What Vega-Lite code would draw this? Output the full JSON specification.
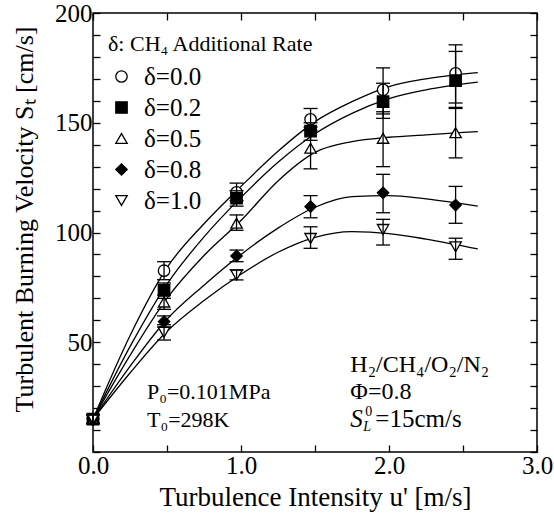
{
  "$schema": "https://vega.github.io/schema/vega-lite/v6.json",
  "width": 444,
  "height": 439,
  "autosize": {"type": "none"},
  "padding": {"left": 93, "top": 13, "right": 17, "bottom": 70},
  "background": "white",
  "config": {
    "view": {"stroke": "black", "strokeWidth": 1.5},
    "font": "Liberation Serif",
    "axis": {
      "domain": false, "grid": false, "tickColor": "black", "tickWidth": 1.3, "tickSize": -7,
      "labelFont": "Liberation Serif", "labelFontSize": 25, "labelColor": "black",
      "titleFont": "Liberation Serif", "titleFontSize": 26, "titleFontWeight": "normal", "titleColor": "black",
      "labelFlush": false, "labelOverlap": false, "titleLimit": 600
    },
    "legend": {
      "orient": "none", "legendX": 15, "legendY": 21,
      "titleFont": "Liberation Serif", "titleFontSize": 22, "titleFontWeight": "normal", "titleColor": "black", "titleLimit": 400,
      "labelFont": "Liberation Serif", "labelFontSize": 25, "labelColor": "black",
      "symbolSize": 130, "symbolStrokeColor": "black", "symbolStrokeWidth": 1.3,
      "rowPadding": 5, "labelOffset": 10, "padding": 0, "titlePadding": 8, "symbolOffset": 1
    }
  },
  "datasets": {
    "curves": [
      {"d": "δ=0.0", "u": 0, "v": 15}, {"d": "δ=0.0", "u": 0.25, "v": 53}, {"d": "δ=0.0", "u": 0.5, "v": 84}, {"d": "δ=0.0", "u": 0.75, "v": 104}, {"d": "δ=0.0", "u": 1.0, "v": 121}, {"d": "δ=0.0", "u": 1.25, "v": 137}, {"d": "δ=0.0", "u": 1.5, "v": 150.5}, {"d": "δ=0.0", "u": 1.75, "v": 159.6}, {"d": "δ=0.0", "u": 2.0, "v": 166.5}, {"d": "δ=0.0", "u": 2.25, "v": 170}, {"d": "δ=0.0", "u": 2.6, "v": 172.8},
      {"d": "δ=0.2", "u": 0, "v": 15}, {"d": "δ=0.2", "u": 0.25, "v": 48}, {"d": "δ=0.2", "u": 0.5, "v": 76.5}, {"d": "δ=0.2", "u": 0.75, "v": 98}, {"d": "δ=0.2", "u": 1.0, "v": 116}, {"d": "δ=0.2", "u": 1.25, "v": 132}, {"d": "δ=0.2", "u": 1.5, "v": 145}, {"d": "δ=0.2", "u": 1.75, "v": 154.3}, {"d": "δ=0.2", "u": 2.0, "v": 161}, {"d": "δ=0.2", "u": 2.25, "v": 165}, {"d": "δ=0.2", "u": 2.6, "v": 168.5},
      {"d": "δ=0.5", "u": 0, "v": 15}, {"d": "δ=0.5", "u": 0.25, "v": 44}, {"d": "δ=0.5", "u": 0.5, "v": 70}, {"d": "δ=0.5", "u": 0.75, "v": 89.5}, {"d": "δ=0.5", "u": 1.0, "v": 105.5}, {"d": "δ=0.5", "u": 1.25, "v": 123.5}, {"d": "δ=0.5", "u": 1.5, "v": 136.5}, {"d": "δ=0.5", "u": 1.75, "v": 141.4}, {"d": "δ=0.5", "u": 2.0, "v": 143.4}, {"d": "δ=0.5", "u": 2.25, "v": 144.5}, {"d": "δ=0.5", "u": 2.6, "v": 146},
      {"d": "δ=0.8", "u": 0, "v": 15}, {"d": "δ=0.8", "u": 0.25, "v": 39}, {"d": "δ=0.8", "u": 0.5, "v": 60.5}, {"d": "δ=0.8", "u": 0.75, "v": 76}, {"d": "δ=0.8", "u": 1.0, "v": 90}, {"d": "δ=0.8", "u": 1.25, "v": 102}, {"d": "δ=0.8", "u": 1.5, "v": 111.5}, {"d": "δ=0.8", "u": 1.75, "v": 116.3}, {"d": "δ=0.8", "u": 2.0, "v": 116.8}, {"d": "δ=0.8", "u": 2.25, "v": 115.3}, {"d": "δ=0.8", "u": 2.6, "v": 112},
      {"d": "δ=1.0", "u": 0, "v": 15}, {"d": "δ=1.0", "u": 0.25, "v": 36}, {"d": "δ=1.0", "u": 0.5, "v": 55}, {"d": "δ=1.0", "u": 0.75, "v": 69}, {"d": "δ=1.0", "u": 1.0, "v": 81}, {"d": "δ=1.0", "u": 1.25, "v": 91}, {"d": "δ=1.0", "u": 1.5, "v": 97.8}, {"d": "δ=1.0", "u": 1.75, "v": 100.4}, {"d": "δ=1.0", "u": 2.0, "v": 99.5}, {"d": "δ=1.0", "u": 2.25, "v": 97}, {"d": "δ=1.0", "u": 2.6, "v": 92.5}
    ],
    "pts": [
      {"d": "δ=0.0", "u": 0, "v": 15, "lo": 13, "hi": 17}, {"d": "δ=0.0", "u": 0.48, "v": 82.6, "lo": 78.5, "hi": 86.7}, {"d": "δ=0.0", "u": 0.97, "v": 118.3, "lo": 114.5, "hi": 122.5}, {"d": "δ=0.0", "u": 1.47, "v": 151.6, "lo": 146.5, "hi": 156.5}, {"d": "δ=0.0", "u": 1.96, "v": 165, "lo": 154, "hi": 175}, {"d": "δ=0.0", "u": 2.45, "v": 172.5, "lo": 159, "hi": 185.5},
      {"d": "δ=0.2", "u": 0, "v": 15, "lo": 13, "hi": 17}, {"d": "δ=0.2", "u": 0.48, "v": 73.6, "lo": 70, "hi": 77}, {"d": "δ=0.2", "u": 0.97, "v": 115.6, "lo": 112, "hi": 119}, {"d": "δ=0.2", "u": 1.47, "v": 146.2, "lo": 142, "hi": 150}, {"d": "δ=0.2", "u": 1.96, "v": 159.6, "lo": 152, "hi": 168}, {"d": "δ=0.2", "u": 2.45, "v": 169.2, "lo": 156.5, "hi": 182.5},
      {"d": "δ=0.5", "u": 0, "v": 15, "lo": 13, "hi": 17}, {"d": "δ=0.5", "u": 0.48, "v": 68.3, "lo": 65, "hi": 71.5}, {"d": "δ=0.5", "u": 0.97, "v": 104.2, "lo": 101, "hi": 108}, {"d": "δ=0.5", "u": 1.47, "v": 138.4, "lo": 129, "hi": 148}, {"d": "δ=0.5", "u": 1.96, "v": 142.9, "lo": 130, "hi": 155}, {"d": "δ=0.5", "u": 2.45, "v": 145.5, "lo": 134, "hi": 157},
      {"d": "δ=0.8", "u": 0, "v": 15, "lo": 13, "hi": 17}, {"d": "δ=0.8", "u": 0.48, "v": 59.4, "lo": 57, "hi": 62}, {"d": "δ=0.8", "u": 0.97, "v": 89.3, "lo": 86.7, "hi": 92}, {"d": "δ=0.8", "u": 1.47, "v": 111.8, "lo": 106.7, "hi": 116.8}, {"d": "δ=0.8", "u": 1.96, "v": 118.1, "lo": 109, "hi": 126.5}, {"d": "δ=0.8", "u": 2.45, "v": 112.5, "lo": 104.2, "hi": 121},
      {"d": "δ=1.0", "u": 0, "v": 15, "lo": 13, "hi": 17}, {"d": "δ=1.0", "u": 0.48, "v": 54.5, "lo": 51, "hi": 58}, {"d": "δ=1.0", "u": 0.97, "v": 80.6, "lo": 78.4, "hi": 83}, {"d": "δ=1.0", "u": 1.47, "v": 97.3, "lo": 92.8, "hi": 102.6}, {"d": "δ=1.0", "u": 1.96, "v": 101.4, "lo": 94.3, "hi": 106}, {"d": "δ=1.0", "u": 2.45, "v": 93.5, "lo": 87.8, "hi": 97.4}
    ]
  },
  "layer": [
    {
      "data": {"name": "curves"},
      "mark": {"type": "line", "interpolate": "monotone", "color": "black", "strokeWidth": 1.3},
      "encoding": {
        "x": {"field": "u", "type": "quantitative", "scale": {"domain": [0, 3], "nice": false, "zero": false},
          "axis": {"orient": "bottom", "values": [0, 0.5, 1, 1.5, 2, 2.5, 3], "labelExpr": "datum.value % 1 === 0 ? format(datum.value, '.1f') : ''", "title": "Turbulence Intensity u' [m/s]", "labelPadding": 8, "titlePadding": 6, "titleFontSize": 27}},
        "y": {"field": "v", "type": "quantitative", "scale": {"domain": [0, 200], "nice": false},
          "axis": {"orient": "left", "values": [0, 10, 20, 30, 40, 50, 60, 70, 80, 90, 100, 110, 120, 130, 140, 150, 160, 170, 180, 190, 200], "labelExpr": "datum.value % 50 === 0 && datum.value > 0 ? datum.label : ''", "title": "Turbulent Burning Velocity  Sₜ [cm/s]", "labelPadding": 8, "titlePadding": 17, "titleY": 206}},
        "detail": {"field": "d"}
      }
    },
    {
      "data": {"name": "pts"},
      "mark": {"type": "point", "filled": true, "strokeWidth": 1.3, "size": 130, "opacity": 1},
      "encoding": {
        "x": {"field": "u", "type": "quantitative", "scale": {"domain": [0, 3], "nice": false, "zero": false},
          "axis": {"orient": "top", "labels": false, "title": null, "values": [0, 0.5, 1, 1.5, 2, 2.5, 3]}},
        "y": {"field": "v", "type": "quantitative", "scale": {"domain": [0, 200], "nice": false},
          "axis": {"orient": "right", "labels": false, "title": null, "values": [0, 10, 20, 30, 40, 50, 60, 70, 80, 90, 100, 110, 120, 130, 140, 150, 160, 170, 180, 190, 200]}},
        "shape": {"field": "d", "type": "nominal", "scale": {"domain": ["δ=0.0", "δ=0.2", "δ=0.5", "δ=0.8", "δ=1.0"], "range": ["circle", "square", "triangle-up", "diamond", "triangle-down"]},
          "legend": {"title": "δ: CH₄ Additional Rate"}},
        "fill": {"field": "d", "type": "nominal", "scale": {"domain": ["δ=0.0", "δ=0.2", "δ=0.5", "δ=0.8", "δ=1.0"], "range": ["white", "black", "white", "black", "white"]},
          "legend": {"title": "δ: CH₄ Additional Rate"}},
        "stroke": {"field": "d", "type": "nominal", "scale": {"domain": ["δ=0.0", "δ=0.2", "δ=0.5", "δ=0.8", "δ=1.0"], "range": ["black", "black", "black", "black", "black"]},
          "legend": {"title": "δ: CH₄ Additional Rate"}}
      }
    },
    {
      "data": {"name": "pts"},
      "mark": {"type": "rule", "color": "black", "strokeWidth": 1.3},
      "encoding": {
        "x": {"field": "u", "type": "quantitative", "scale": {"domain": [0, 3], "nice": false, "zero": false}, "axis": null},
        "y": {"field": "lo", "type": "quantitative", "scale": {"domain": [0, 200], "nice": false}, "axis": null},
        "y2": {"field": "hi"}
      }
    },
    {
      "data": {"name": "pts"},
      "mark": {"type": "tick", "orient": "horizontal", "size": 14, "thickness": 1.3, "color": "black", "opacity": 1},
      "encoding": {
        "x": {"field": "u", "type": "quantitative", "scale": {"domain": [0, 3], "nice": false, "zero": false}, "axis": null},
        "y": {"field": "lo", "type": "quantitative", "scale": {"domain": [0, 200], "nice": false}, "axis": null}
      }
    },
    {
      "data": {"name": "pts"},
      "mark": {"type": "tick", "orient": "horizontal", "size": 14, "thickness": 1.3, "color": "black", "opacity": 1},
      "encoding": {
        "x": {"field": "u", "type": "quantitative", "scale": {"domain": [0, 3], "nice": false, "zero": false}, "axis": null},
        "y": {"field": "hi", "type": "quantitative", "scale": {"domain": [0, 200], "nice": false}, "axis": null}
      }
    },
    {
      "data": {"values": [{}]},
      "mark": {"type": "text", "text": "P₀=0.101MPa", "align": "left", "baseline": "middle", "fontSize": 22, "font": "Liberation Serif", "color": "black"},
      "encoding": {"x": {"datum": 0.365, "type": "quantitative", "axis": null}, "y": {"datum": 27.5, "type": "quantitative", "axis": null}}
    },
    {
      "data": {"values": [{}]},
      "mark": {"type": "text", "text": "T₀=298K", "align": "left", "baseline": "middle", "fontSize": 22, "font": "Liberation Serif", "color": "black"},
      "encoding": {"x": {"datum": 0.365, "type": "quantitative", "axis": null}, "y": {"datum": 14.5, "type": "quantitative", "axis": null}}
    },
    {
      "data": {"values": [{}]},
      "mark": {"type": "text", "text": "H₂/CH₄/O₂/N₂", "align": "left", "baseline": "middle", "fontSize": 24, "font": "Liberation Serif", "color": "black"},
      "encoding": {"x": {"datum": 1.739, "type": "quantitative", "axis": null}, "y": {"datum": 39.6, "type": "quantitative", "axis": null}}
    },
    {
      "data": {"values": [{}]},
      "mark": {"type": "text", "text": "Φ=0.8", "align": "left", "baseline": "middle", "fontSize": 24, "font": "Liberation Serif", "color": "black"},
      "encoding": {"x": {"datum": 1.739, "type": "quantitative", "axis": null}, "y": {"datum": 27.3, "type": "quantitative", "axis": null}}
    },
    {
      "data": {"values": [{}]},
      "mark": {"type": "text", "text": "S", "align": "left", "baseline": "middle", "fontSize": 25, "fontStyle": "italic", "font": "Liberation Serif", "color": "black"},
      "encoding": {"x": {"datum": 1.739, "type": "quantitative", "axis": null}, "y": {"datum": 15.0, "type": "quantitative", "axis": null}}
    },
    {
      "data": {"values": [{}]},
      "mark": {"type": "text", "text": "0", "align": "left", "baseline": "middle", "fontSize": 14, "dx": 15, "dy": -7, "font": "Liberation Serif", "color": "black"},
      "encoding": {"x": {"datum": 1.739, "type": "quantitative", "axis": null}, "y": {"datum": 15.0, "type": "quantitative", "axis": null}}
    },
    {
      "data": {"values": [{}]},
      "mark": {"type": "text", "text": "L", "align": "left", "baseline": "middle", "fontSize": 14, "fontStyle": "italic", "dx": 13, "dy": 8, "font": "Liberation Serif", "color": "black"},
      "encoding": {"x": {"datum": 1.739, "type": "quantitative", "axis": null}, "y": {"datum": 15.0, "type": "quantitative", "axis": null}}
    },
    {
      "data": {"values": [{}]},
      "mark": {"type": "text", "text": "=15cm/s", "align": "left", "baseline": "middle", "fontSize": 25, "dx": 25, "font": "Liberation Serif", "color": "black"},
      "encoding": {"x": {"datum": 1.739, "type": "quantitative", "axis": null}, "y": {"datum": 15.0, "type": "quantitative", "axis": null}}
    }
  ],
  "resolve": {"axis": {"x": "independent", "y": "independent"}}
}
